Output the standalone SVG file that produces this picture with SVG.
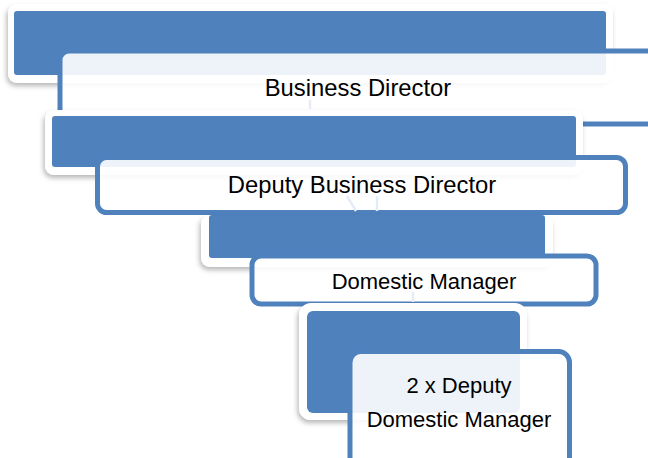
<svg xmlns="http://www.w3.org/2000/svg" width="648" height="458" viewBox="0 0 648 458">
<style>
.frame{fill:#fff;filter:url(#sh)}
.blk{fill:#4F81BD}
.pnl{fill:#fff;fill-opacity:0.9;stroke:#4F81BD;stroke-width:5}
.lbl{font-family:"Liberation Sans",Arial,sans-serif;font-size:22px;fill:#000;text-anchor:middle}
.big{font-size:23.8px}
.con{stroke:#E6ECF5;stroke-width:2.5;fill:none}
</style>
<defs>
<filter id="sh" x="-10%" y="-20%" width="120%" height="150%">
<feDropShadow dx="-1.5" dy="3" stdDeviation="2.5" flood-color="#000" flood-opacity="0.28"/>
</filter>
</defs>
<rect width="648" height="458" fill="#fff"/>
<g id="node1">
<rect class="frame" x="8" y="4" width="605" height="79" rx="9"/>
<rect class="blk" x="14" y="11" width="592" height="64" rx="3"/>
<rect class="pnl" x="60" y="51" width="700" height="73" rx="9"/>
<text class="lbl big" x="358" y="96">Business Director</text>
</g>
<g id="node2">
<rect class="frame" x="45" y="110" width="538" height="65" rx="9"/>
<rect class="blk" x="52" y="116" width="524" height="51" rx="3"/>
<rect class="pnl" x="97.5" y="157.5" width="528" height="55" rx="9"/>
<text class="lbl big" x="362" y="193">Deputy Business Director</text>
</g>
<g id="node3">
<rect class="frame" x="201" y="215" width="352" height="52" rx="9"/>
<rect class="blk" x="209" y="215" width="336" height="43" rx="3"/>
<rect class="pnl" x="252" y="256" width="344" height="48" rx="9"/>
<text class="lbl" x="424" y="289">Domestic Manager</text>
</g>
<g id="node4">
<rect class="frame" x="299" y="303" width="228" height="117" rx="12"/>
<rect class="blk" x="307" y="311" width="213" height="102" rx="6"/>
<rect class="pnl" x="350" y="351.5" width="219.5" height="130" rx="11"/>
<text class="lbl" x="459" y="393">2 x Deputy</text>
<text class="lbl" x="459" y="427">Domestic Manager</text>
</g>
<g id="connectors">
<line class="con" x1="310" y1="100" x2="310" y2="109"/>
<line class="con" x1="347" y1="196" x2="356" y2="211"/>
<line class="con" x1="377" y1="196" x2="377" y2="211"/>
<line class="con" x1="413" y1="292" x2="413" y2="302"/>
</g>
</svg>
